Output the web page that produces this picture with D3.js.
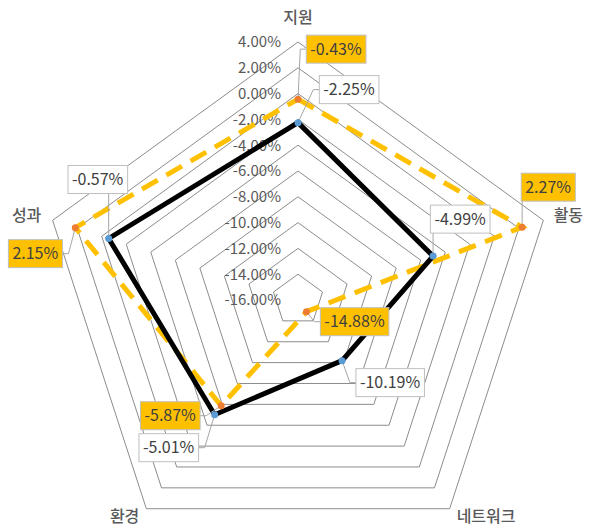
<!DOCTYPE html>
<html>
<head>
<meta charset="utf-8">
<script src="https://cdn.jsdelivr.net/npm/d3@7"></script>
<style>
  html, body { margin: 0; padding: 0; background: #fff; }
  svg { display: block; font-family: "Noto Sans CJK KR", "Noto Sans", sans-serif; }
</style>
</head>
<body>
<svg id="chart" width="592" height="528"></svg>
<script>
// Categories (clockwise from the top)
const categories = ["지원", "활동", "네트워크", "환경", "성과"];
// Series values, in percent
const seriesBlack = [-2.25, -4.99, -10.19, -5.01, -0.57];
const seriesGold = [-0.43, 2.27, -14.88, -5.87, 2.15];
// Radial tick labels (outer to centre)
const tickValues = [4, 2, 0, -2, -4, -6, -8, -10, -12, -14, -16];

// Layout
const cx = 298, cy = 300, R = 258;
const fmt = v => v.toFixed(2) + "%";

// Category label offsets from the outer vertex
const catOffsets = [[0, -25], [25, -5], [7, 8], [-7, 8], [-26, -5]];
const catAnchors = ["middle", "middle", "start", "end", "middle"];
// Data label centres relative to each point
const blackLabelOffsets = [[51, -33], [27, -37], [48, 22], [-46, 33], [-11, -59]];
const goldLabelOffsets = [[38, -50], [26, -40], [48, 10], [-51, 10], [-40, 26]];

const svg = d3.select("#chart");

const r = d3.scaleLinear().domain([-16, 4]).range([0, R]);
const angle = d3.scaleLinear().domain([0, categories.length]).range([0, 2 * Math.PI]);

const pt = (i, v) => {
  const a = angle(i) - Math.PI / 2;
  return [cx + r(v) * Math.cos(a), cy + r(v) * Math.sin(a)];
};

// Grid rings (no spokes)
const ringValues = tickValues.filter(v => v > -16);
svg.append("g").selectAll("path")
  .data(ringValues)
  .join("path")
  .attr("d", v => d3.line()(categories.map((c, i) => pt(i, v))) + "Z")
  .attr("fill", "none")
  .attr("stroke", "#8c8c8c")
  .attr("stroke-width", 1);

// Tick labels along the top axis
svg.append("g").selectAll("text")
  .data(tickValues)
  .join("text")
  .attr("x", cx - 17)
  .attr("y", v => pt(0, v)[1])
  .attr("dy", "0.36em")
  .attr("text-anchor", "end")
  .attr("font-size", 15)
  .attr("fill", "#595959")
  .text(fmt);

// Category labels
svg.append("g").selectAll("text")
  .data(categories)
  .join("text")
  .attr("x", (c, i) => pt(i, 4)[0] + catOffsets[i][0])
  .attr("y", (c, i) => pt(i, 4)[1] + catOffsets[i][1])
  .attr("dy", "0.36em")
  .attr("text-anchor", (c, i) => catAnchors[i])
  .attr("font-size", 16)
  .attr("font-weight", 500)
  .attr("fill", "#595959")
  .text(d => d);

const polyline = vals => d3.line()(vals.map((v, i) => pt(i, v))) + "Z";

// Gold dashed series
svg.append("path")
  .attr("d", polyline(seriesGold))
  .attr("fill", "none")
  .attr("stroke", "#FFC000")
  .attr("stroke-width", 5)
  .attr("stroke-dasharray", "18,10");

// Black solid series
svg.append("path")
  .attr("d", polyline(seriesBlack))
  .attr("fill", "none")
  .attr("stroke", "#000")
  .attr("stroke-width", 5)
  .attr("stroke-linejoin", "miter");

// Data labels with leader lines
function drawLabels(vals, offsets, fill) {
  const g = svg.append("g");
  vals.forEach((v, i) => {
    const [px, py] = pt(i, v);
    const lx = px + offsets[i][0], ly = py + offsets[i][1];
    const t = g.append("text")
      .attr("x", lx).attr("y", ly)
      .attr("dy", "0.36em")
      .attr("text-anchor", "middle")
      .attr("font-size", 16)
      .attr("fill", "#404040")
      .text(fmt(v));
    const bb = t.node().getBBox();
    const padX = 4, padY = 3;
    const x0 = bb.x - padX, x1 = bb.x + bb.width + padX;
    const y0 = ly - 11 - padY, y1 = ly + 11 + padY;
    // leader line attaching to the nearest side of the box
    let pts;
    if (px < x0) pts = [[x0, ly], [x0 - 6, ly], [px, py]];
    else if (px > x1) pts = [[x1, ly], [x1 + 6, ly], [px, py]];
    else if (py > y1) pts = [[px, y1], [px, py]];
    else pts = [[px, y0], [px, py]];
    g.insert("path", "text")
      .attr("d", d3.line()(pts))
      .attr("fill", "none")
      .attr("stroke", "#a6a6a6")
      .attr("stroke-width", 1);
    g.insert("rect", "text")
      .attr("x", x0).attr("y", y0)
      .attr("width", x1 - x0).attr("height", y1 - y0)
      .attr("fill", fill)
      .attr("stroke", "#bfbfbf")
      .attr("stroke-width", 1);
  });
}

// Markers
function drawDots(vals, color) {
  svg.append("g").selectAll("circle")
    .data(vals)
    .join("circle")
    .attr("cx", (v, i) => pt(i, v)[0])
    .attr("cy", (v, i) => pt(i, v)[1])
    .attr("r", 3.5)
    .attr("fill", color);
}

drawLabels(seriesBlack, blackLabelOffsets, "#fff");
drawLabels(seriesGold, goldLabelOffsets, "#FFC000");
drawDots(seriesBlack, "#5B9BD5");
drawDots(seriesGold, "#ED7D31");
</script>
</body>
</html>
